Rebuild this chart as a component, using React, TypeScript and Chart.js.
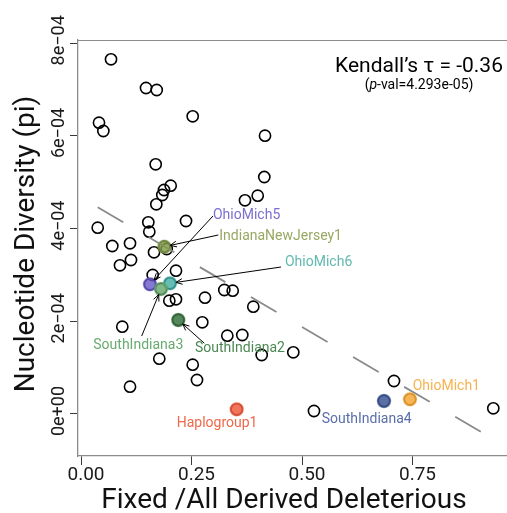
import React, { useEffect, useRef } from "react";
import { Chart, registerables } from "chart.js";

Chart.register(...registerables);

// ---------- data ----------
const sampleX = [
  0.0679, 0.1471, 0.1713, 0.2527, 0.0407, 0.0505, 0.4163, 0.169, 0.4147, 0.3998,
  0.371, 0.2029, 0.1878, 0.1839, 0.1704, 0.1523, 0.2376, 0.0378, 0.1545, 0.0708,
  0.1109, 0.1939, 0.1652, 0.1131, 0.0882, 0.1622, 0.2149, 0.1998, 0.2149, 0.2805,
  0.3242, 0.3432, 0.3898, 0.2744, 0.0934, 0.331, 0.3649, 0.4803, 0.4088, 0.1771,
  0.2527, 0.2624, 0.1109, 0.7081, 0.5271, 0.9328,
];
const sampleY = [
  7.655e-4, 7.035e-4, 6.992e-4, 6.424e-4, 6.286e-4, 6.107e-4, 6.006e-4, 5.389e-4, 5.114e-4, 4.711e-4,
  4.612e-4, 4.927e-4, 4.834e-4, 4.726e-4, 4.525e-4, 4.137e-4, 4.165e-4, 4.02e-4, 3.934e-4, 3.625e-4,
  3.684e-4, 3.561e-4, 3.49e-4, 3.323e-4, 3.209e-4, 3.0e-4, 3.092e-4, 2.445e-4, 2.475e-4, 2.51e-4,
  2.676e-4, 2.661e-4, 2.316e-4, 1.979e-4, 1.884e-4, 1.69e-4, 1.705e-4, 1.331e-4, 1.273e-4, 1.193e-4,
  1.064e-4, 0.734e-4, 0.589e-4, 0.712e-4, 0.065e-4, 0.123e-4,
];

const highlightNames = [
  "OhioMich5", "IndianaNewJersey1", "OhioMich6", "SouthIndiana3",
  "SouthIndiana2", "Haplogroup1", "SouthIndiana4", "OhioMich1",
];
const highlightX = [0.1561, 0.1885, 0.2014, 0.181, 0.2201, 0.3523, 0.6855, 0.7443];
const highlightY = [2.799e-4, 3.61e-4, 2.821e-4, 2.698e-4, 2.029e-4, 1.01e-5, 2.81e-5, 3.17e-5];

// fitted trend line end points
const trendX = [0.0378, 0.9328];
const trendY = [4.461e-4, -5.42e-5];

const xTickValues = [0, 0.25, 0.5, 0.75];
const xTickLabels = ["0.00", "0.25", "0.50", "0.75"];
const yTickValues = [0, 2e-4, 4e-4, 6e-4, 8e-4];
const yTickLabels = ["0e+00", "2e\u221204", "4e\u221204", "6e\u221204", "8e\u221204"];

const xTitle = "Fixed /All Derived Deleterious";
const yTitle = "Nucleotide Diversity (pi)";
const statMain = "Kendall\u2019s \u03c4 = -0.36";
const statP = "4.293e-05";

// ---------- layout / style (kept apart from the data) ----------
const X_MIN = -0.00679;
const X_MAX = 0.9638;
const Y_MIN = -9.064e-5;
const Y_MAX = 8.071e-4;

// label anchors, in data units
const labelAnchorX = [0.2986, 0.3129, 0.4615, 0.0278, 0.2579, 0.2165, 0.5446, 0.7505];
const labelAnchorY = [4.294e-4, 3.841e-4, 3.259e-4, 1.474e-4, 1.403e-4, -2.01e-5, -1.08e-5, 6.04e-5];
// arrow tails, in data units (null = no arrow)
const arrowFromX: (number | null)[] = [0.2986, 0.3106, 0.4525, 0.1373, 0.279, null, null, null];
const arrowFromY: (number | null)[] = [4.273e-4, 3.863e-4, 3.172e-4, 1.683e-4, 1.526e-4, null, null, null];

const hlFill = [
  "rgba(104,88,200,0.80)", "rgba(128,154,72,0.82)", "rgba(64,172,162,0.80)", "rgba(100,165,105,0.80)",
  "rgba(56,114,64,0.85)", "rgba(238,92,62,0.85)", "rgba(62,88,150,0.85)", "rgba(246,168,55,0.85)",
];
const hlBorder = [
  "rgba(104,88,200,0.55)", "rgba(128,154,72,0.55)", "rgba(64,172,162,0.55)", "rgba(100,165,105,0.55)",
  "rgba(56,114,64,0.6)", "rgba(238,92,62,0.55)", "rgba(62,88,150,0.6)", "rgba(246,168,55,0.55)",
];
const hlText = ["#7b6fd0", "#97a862", "#62b9b0", "#68aa70", "#4c8853", "#f0684a", "#5a6eaa", "#f7b24e"];

const AXIS = "#8c8c8c";
const TICK = "#3a3a3a";
const FONT = "Roboto";

const overlay = {
  id: "overlay",
  afterDraw(chart: any) {
    const { ctx, chartArea, scales } = chart;
    const xs = scales.x;
    const ys = scales.y;
    ctx.save();

    // top frame line
    ctx.strokeStyle = AXIS;
    ctx.lineWidth = 1.2;
    ctx.beginPath();
    ctx.moveTo(chartArea.left, chartArea.top + 0.5);
    ctx.lineTo(chartArea.right, chartArea.top + 0.5);
    ctx.stroke();

    // tick labels
    ctx.fillStyle = "#1a1a1a";
    ctx.font = `19px ${FONT}`;
    ctx.textAlign = "center";
    ctx.textBaseline = "alphabetic";
    xs.ticks.forEach((t: any) => {
      const i = xTickValues.indexOf(t.value);
      if (i < 0) return;
      ctx.fillText(xTickLabels[i], xs.getPixelForValue(t.value) + 5, chartArea.bottom + 24);
    });
    ctx.font = `18px ${FONT}`;
    ys.ticks.forEach((t: any) => {
      const i = yTickValues.indexOf(t.value);
      if (i < 0) return;
      ctx.save();
      ctx.translate(chartArea.left - 14, ys.getPixelForValue(t.value) - 3);
      ctx.rotate(-Math.PI / 2);
      ctx.fillText(yTickLabels[i], 0, 0);
      ctx.restore();
    });

    // axis titles
    ctx.fillStyle = "#111";
    ctx.font = `28px ${FONT}`;
    ctx.fillText(xTitle, 284, chartArea.bottom + 52);
    ctx.save();
    ctx.translate(34, (chartArea.top + chartArea.bottom) / 2 - 4);
    ctx.rotate(-Math.PI / 2);
    ctx.fillText(yTitle, 0, 0);
    ctx.restore();

    // arrows
    ctx.strokeStyle = "#000";
    ctx.lineWidth = 1;
    highlightNames.forEach((_, i) => {
      const fx = arrowFromX[i];
      const fy = arrowFromY[i];
      if (fx == null || fy == null) return;
      const x0 = xs.getPixelForValue(fx);
      const y0 = ys.getPixelForValue(fy);
      const px = xs.getPixelForValue(highlightX[i]);
      const py = ys.getPixelForValue(highlightY[i]);
      const dx = x0 - px;
      const dy = y0 - py;
      const len = Math.hypot(dx, dy);
      const ux = dx / len;
      const uy = dy / len;
      const tx = px + ux * 6;
      const ty = py + uy * 6;
      ctx.beginPath();
      ctx.moveTo(x0, y0);
      ctx.lineTo(tx, ty);
      const ang = Math.atan2(uy, ux);
      const ah = 7;
      const spread = 0.42;
      ctx.moveTo(tx + ah * Math.cos(ang + spread), ty + ah * Math.sin(ang + spread));
      ctx.lineTo(tx, ty);
      ctx.lineTo(tx + ah * Math.cos(ang - spread), ty + ah * Math.sin(ang - spread));
      ctx.stroke();
    });

    // point labels
    ctx.font = `14px ${FONT}`;
    ctx.textAlign = "left";
    ctx.textBaseline = "middle";
    highlightNames.forEach((name, i) => {
      ctx.fillStyle = hlText[i];
      ctx.fillText(name, xs.getPixelForValue(labelAnchorX[i]), ys.getPixelForValue(labelAnchorY[i]));
    });

    // statistic text
    const cx = chartArea.right - 88;
    ctx.fillStyle = "#000";
    ctx.textAlign = "left";
    ctx.textBaseline = "alphabetic";
    ctx.font = `21px ${FONT}`;
    const w1 = ctx.measureText(statMain).width;
    ctx.fillText(statMain, cx - w1 / 2, chartArea.top + 31.7);
    const parts = [
      { t: "(", f: `14px ${FONT}` },
      { t: "p", f: `italic 14px ${FONT}` },
      { t: `-val=${statP})`, f: `14px ${FONT}` },
    ];
    let total = 0;
    parts.forEach((p) => {
      ctx.font = p.f;
      total += ctx.measureText(p.t).width;
    });
    let sx = cx - total / 2;
    parts.forEach((p) => {
      ctx.font = p.f;
      ctx.fillText(p.t, sx, chartArea.top + 49);
      sx += ctx.measureText(p.t).width;
    });

    ctx.restore();
  },
};

export default function App() {
  const ref = useRef<HTMLCanvasElement>(null);

  useEffect(() => {
    if (!ref.current) return;
    const allX = sampleX.concat(highlightX);
    const allY = sampleY.concat(highlightY);
    const chart = new Chart(ref.current, {
      type: "scatter",
      data: {
        datasets: [
          {
            label: "highlight",
            data: highlightX.map((x, i) => ({ x, y: highlightY[i] })),
            pointRadius: 6.5,
            pointBackgroundColor: hlFill,
            pointBorderColor: hlBorder,
            pointBorderWidth: 1.6,
            order: 0,
          },
          {
            label: "trend",
            data: trendX.map((x, i) => ({ x, y: trendY[i] })),
            showLine: true,
            borderColor: "#8a8a8a",
            borderWidth: 1.8,
            borderDash: [29.6, 29.6],
            pointRadius: 0,
            fill: false,
            order: 1,
          },
          {
            label: "samples",
            data: allX.map((x, i) => ({ x, y: allY[i] })),
            pointRadius: 5.6,
            pointBackgroundColor: "rgba(0,0,0,0)",
            pointBorderColor: "#000",
            pointBorderWidth: 1.6,
            order: 2,
          },
        ],
      } as any,
      options: {
        animation: false,
        responsive: true,
        maintainAspectRatio: false,
        events: [],
        layout: { autoPadding: false, padding: { top: 40, left: 0, right: 0, bottom: 0 } },
        plugins: { legend: { display: false }, tooltip: { enabled: false } },
        scales: {
          x: {
            type: "linear",
            min: X_MIN,
            max: X_MAX,
            afterBuildTicks: (s: any) => {
              s.ticks = xTickValues.map((v) => ({ value: v }));
            },
            afterFit: (s: any) => {
              s.height = 57;
            },
            ticks: { display: false },
            grid: { drawOnChartArea: false, drawTicks: true, tickLength: 9, color: TICK, lineWidth: 1 },
            border: { display: true, color: AXIS, width: 1.3 },
          },
          y: {
            type: "linear",
            min: Y_MIN,
            max: Y_MAX,
            afterBuildTicks: (s: any) => {
              s.ticks = yTickValues.map((v) => ({ value: v }));
            },
            afterFit: (s: any) => {
              s.width = 78;
            },
            ticks: { display: false },
            grid: { drawOnChartArea: false, drawTicks: true, tickLength: 8, color: TICK, lineWidth: 1 },
            border: { display: true, color: AXIS, width: 1.3 },
          },
        },
      } as any,
      plugins: [overlay],
    });
    let alive = true;
    Promise.all([
      document.fonts.load(`18px ${FONT}`),
      document.fonts.load(`italic 14px ${FONT}`),
    ])
      .catch(() => undefined)
      .then(() => {
        if (alive) chart.draw();
      });
    return () => {
      alive = false;
      chart.destroy();
    };
  }, []);

  return (
    <div style={{ position: "absolute", left: 0, top: 0, width: 507, height: 513 }}>
      <canvas ref={ref} />
    </div>
  );
}
